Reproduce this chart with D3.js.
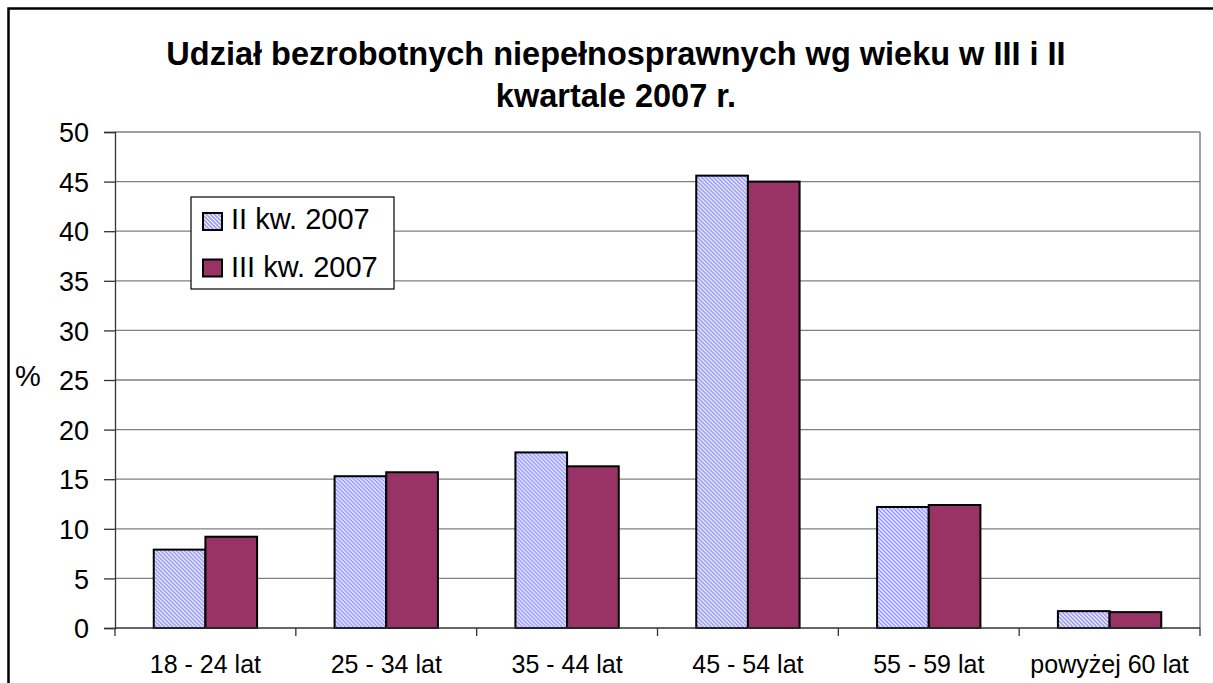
<!DOCTYPE html>
<html><head><meta charset="utf-8">
<script src="https://cdn.jsdelivr.net/npm/d3@7"></script>
<style>body{margin:0;background:#fff;}svg{display:block;font-family:"Liberation Sans",Arial,sans-serif;}</style>
</head><body>
<svg id="c" width="1213" height="683"></svg>
<script>
const categories = ["18 - 24 lat","25 - 34 lat","35 - 44 lat","45 - 54 lat","55 - 59 lat","powyżej 60 lat"];
const seriesNames = ["II kw. 2007","III kw. 2007"];
const seriesII = [7.9, 15.3, 17.7, 45.6, 12.2, 1.7];
const seriesIII = [9.2, 15.7, 16.3, 45.0, 12.4, 1.6];
const yTicks = [0,5,10,15,20,25,30,35,40,45,50];
const titleLines = ["Udział bezrobotnych niepełnosprawnych wg wieku w III i II","kwartale 2007 r."];

const svg = d3.select("#c");
const defs = svg.append("defs");
const pat = defs.append("pattern").attr("id","hatch").attr("patternUnits","userSpaceOnUse")
  .attr("width",4).attr("height",4);
pat.append("rect").attr("width",4).attr("height",4).attr("fill","#fff");
pat.append("path").attr("d","M-1,-1 L5,5 M-1,3 L1,5 M3,-1 L5,1").attr("stroke","#9999ff").attr("stroke-width",1.7);

// outer border
svg.append("rect").attr("x",8.5).attr("y",8.5).attr("width",1220).attr("height",700)
  .attr("fill","none").attr("stroke","#000").attr("stroke-width",2.5);

const L=115, R=1200, T=132, B=628;
const x = d3.scaleBand().domain(categories).range([L,R]).paddingInner(0).paddingOuter(0);
const y = d3.scaleLinear().domain([0,50]).range([B,T]);
const bw = x.bandwidth()/3.5;

// gridlines
svg.append("g").selectAll("line").data(yTicks.filter(d=>d>0)).join("line")
  .attr("x1",L).attr("x2",R).attr("y1",d=>y(d)).attr("y2",d=>y(d))
  .attr("stroke","#808080").attr("stroke-width",1.3);
// plot area right border
svg.append("line").attr("x1",R).attr("x2",R).attr("y1",T).attr("y2",B).attr("stroke","#808080").attr("stroke-width",1.5);

// y axis
const ya = svg.append("g").attr("transform",`translate(${L},0)`)
  .call(d3.axisLeft(y).tickValues(yTicks).tickSize(11).tickPadding(15));
ya.select(".domain").attr("stroke","#333").attr("stroke-width",1.3);
ya.selectAll(".tick line").attr("stroke","#333").attr("stroke-width",1.3);
ya.selectAll("text").attr("font-size",27).attr("fill","#000").attr("font-family","Liberation Sans, Arial")
  .attr("dy","0.36em");

// bars
const groups = svg.append("g").selectAll("g").data(categories).join("g")
  .attr("transform",d=>`translate(${x(d)+ (x.bandwidth()-2*bw)/2},0)`);
groups.append("rect").attr("x",0).attr("width",bw)
  .attr("y",(d,i)=>y(seriesII[i])).attr("height",(d,i)=>B-y(seriesII[i]))
  .attr("fill","url(#hatch)").attr("stroke","#000").attr("stroke-width",2);
groups.append("rect").attr("x",bw).attr("width",bw)
  .attr("y",(d,i)=>y(seriesIII[i])).attr("height",(d,i)=>B-y(seriesIII[i]))
  .attr("fill","#993366").attr("stroke","#000").attr("stroke-width",2);

// x axis
const xa = svg.append("g").attr("transform",`translate(0,${B})`)
  .call(d3.axisBottom(x).tickSize(0).tickPadding(0));
xa.select(".domain").remove();
xa.selectAll("text").attr("font-size",25).attr("fill","#000").attr("font-family","Liberation Sans, Arial")
  .attr("dy",null).attr("y",45);
svg.append("line").attr("x1",L).attr("x2",R).attr("y1",B).attr("y2",B).attr("stroke","#333").attr("stroke-width",1.3);
const edges = categories.map(c=>x(c)).concat([R]);
svg.append("g").selectAll("line").data(edges).join("line")
  .attr("x1",d=>d).attr("x2",d=>d).attr("y1",B).attr("y2",B+8).attr("stroke","#333").attr("stroke-width",1.3);

// y label
svg.append("text").attr("x",28).attr("y",386).attr("text-anchor","middle").attr("font-size",29).text("%");

// title
svg.append("g").selectAll("text").data(titleLines).join("text")
  .attr("x",616).attr("y",(d,i)=>65+i*41.7).attr("text-anchor","middle")
  .attr("font-size",32.5).attr("font-weight","bold").text(d=>d);

// legend
const lg = svg.append("g");
lg.append("rect").attr("x",191).attr("y",197).attr("width",203).attr("height",92)
  .attr("fill","#fff").attr("stroke","#000").attr("stroke-width",1.2);
const fills = ["url(#hatch)","#993366"];
seriesNames.forEach((n,i)=>{
  lg.append("rect").attr("x",203).attr("y",213+i*46.5).attr("width",19).attr("height",17)
    .attr("fill",fills[i]).attr("stroke","#000").attr("stroke-width",2);
  lg.append("text").attr("x",231).attr("y",229+i*48).attr("font-size",29).text(n);
});
</script>
</body></html>
